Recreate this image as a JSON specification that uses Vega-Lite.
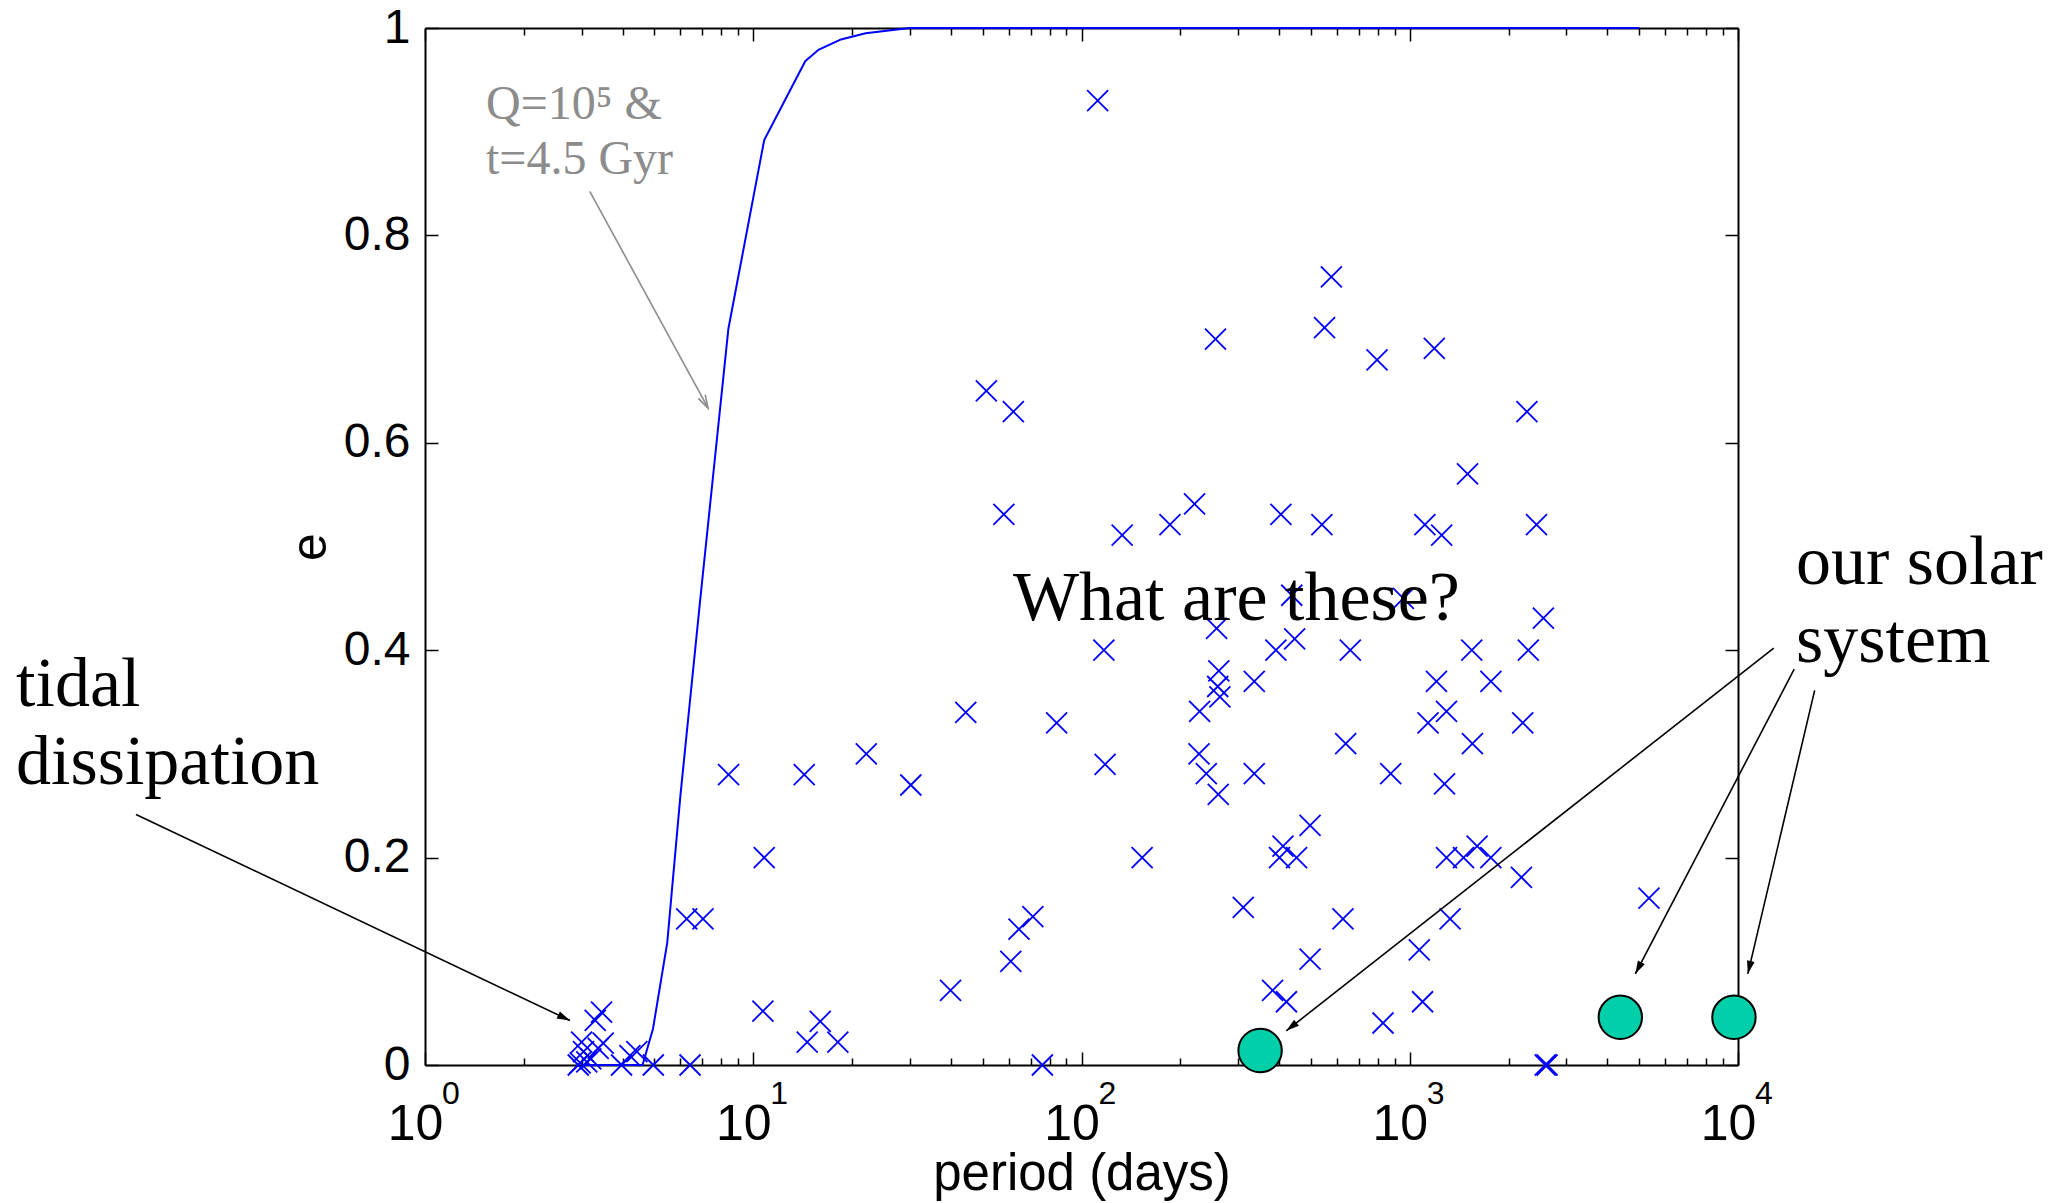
{
  "$schema": "https://vega.github.io/schema/vega-lite/v6.json",
  "width": 1313,
  "height": 1037,
  "autosize": "none",
  "padding": {"left": 425, "top": 28, "right": 331, "bottom": 138},
  "background": "white",
  "config": {"view": {"stroke": null}},
  "datasets": {
    "planets": [
      {"P": 2.93, "e": 0.0}, {"P": 2.97, "e": 0.002}, {"P": 3.0, "e": 0.022}, {"P": 3.04, "e": 0.013}, {"P": 3.11, "e": 0.003},
      {"P": 3.2, "e": 0.006}, {"P": 3.3, "e": 0.043}, {"P": 3.37, "e": 0.016}, {"P": 3.45, "e": 0.051}, {"P": 3.49, "e": 0.021},
      {"P": 3.97, "e": 0.0}, {"P": 4.21, "e": 0.009}, {"P": 4.42, "e": 0.013}, {"P": 4.96, "e": 0.0}, {"P": 6.42, "e": 0.0},
      {"P": 6.27, "e": 0.141}, {"P": 7.03, "e": 0.141}, {"P": 8.41, "e": 0.28}, {"P": 10.8, "e": 0.2}, {"P": 10.7, "e": 0.052},
      {"P": 14.3, "e": 0.28}, {"P": 14.6, "e": 0.022}, {"P": 16.0, "e": 0.042}, {"P": 18.1, "e": 0.022}, {"P": 22.1, "e": 0.3},
      {"P": 30.2, "e": 0.27}, {"P": 39.9, "e": 0.072}, {"P": 44.4, "e": 0.34}, {"P": 51.3, "e": 0.65}, {"P": 58, "e": 0.531},
      {"P": 60.9, "e": 0.1}, {"P": 62, "e": 0.63}, {"P": 64.5, "e": 0.131}, {"P": 71.1, "e": 0.143}, {"P": 76, "e": 0.0},
      {"P": 84, "e": 0.33}, {"P": 112, "e": 0.93}, {"P": 117, "e": 0.4}, {"P": 118, "e": 0.29}, {"P": 133, "e": 0.511},
      {"P": 153, "e": 0.2}, {"P": 186, "e": 0.521}, {"P": 221, "e": 0.541}, {"P": 228, "e": 0.3}, {"P": 229, "e": 0.341},
      {"P": 240, "e": 0.281}, {"P": 256, "e": 0.7}, {"P": 258, "e": 0.421}, {"P": 261, "e": 0.261}, {"P": 262, "e": 0.38},
      {"P": 260, "e": 0.365}, {"P": 264, "e": 0.355}, {"P": 311, "e": 0.152}, {"P": 336, "e": 0.37}, {"P": 336, "e": 0.281},
      {"P": 382, "e": 0.072}, {"P": 391, "e": 0.4}, {"P": 401, "e": 0.2}, {"P": 405, "e": 0.531}, {"P": 411, "e": 0.211},
      {"P": 421, "e": 0.061}, {"P": 437, "e": 0.453}, {"P": 446, "e": 0.411}, {"P": 452, "e": 0.2}, {"P": 497, "e": 0.231},
      {"P": 497, "e": 0.102}, {"P": 540, "e": 0.521}, {"P": 550, "e": 0.711}, {"P": 577, "e": 0.76}, {"P": 626, "e": 0.141},
      {"P": 638, "e": 0.31}, {"P": 659, "e": 0.4}, {"P": 795, "e": 0.68}, {"P": 829, "e": 0.0405}, {"P": 875, "e": 0.281},
      {"P": 956, "e": 0.45}, {"P": 1069, "e": 0.111}, {"P": 1094, "e": 0.061}, {"P": 1112, "e": 0.521}, {"P": 1137, "e": 0.33},
      {"P": 1188, "e": 0.691}, {"P": 1206, "e": 0.37}, {"P": 1251, "e": 0.511}, {"P": 1276, "e": 0.271}, {"P": 1294, "e": 0.341},
      {"P": 1294, "e": 0.2}, {"P": 1327, "e": 0.141}, {"P": 1458, "e": 0.2}, {"P": 1500, "e": 0.57}, {"P": 1545, "e": 0.4},
      {"P": 1552, "e": 0.31}, {"P": 1604, "e": 0.211}, {"P": 1766, "e": 0.2}, {"P": 1767, "e": 0.37}, {"P": 2189, "e": 0.181},
      {"P": 2209, "e": 0.33}, {"P": 2275, "e": 0.63}, {"P": 2297, "e": 0.4}, {"P": 2433, "e": 0.521}, {"P": 2553, "e": 0.431},
      {"P": 2588, "e": 0.0}, {"P": 2620, "e": 0.0}, {"P": 5355, "e": 0.161}
    ],
    "curve": [
      {"P": 3, "e": 0}, {"P": 4.6, "e": 0}, {"P": 4.95, "e": 0.035}, {"P": 5.47, "e": 0.118}, {"P": 6.0, "e": 0.26},
      {"P": 6.9, "e": 0.45}, {"P": 8.4, "e": 0.71}, {"P": 10.8, "e": 0.892}, {"P": 14.4, "e": 0.968}, {"P": 15.8, "e": 0.979},
      {"P": 18.5, "e": 0.989}, {"P": 22, "e": 0.995}, {"P": 30, "e": 1}, {"P": 5000, "e": 1}
    ],
    "solar": [
      {"name": "Earth", "P": 350, "e": 0.014},
      {"name": "Jupiter", "P": 4380, "e": 0.046},
      {"name": "Saturn", "P": 9720, "e": 0.046}
    ],
    "arrows": [
      {"id": "tidal", "P1": 0.1317, "e1": 0.2416, "P2": 2.765, "e2": 0.0429},
      {"id": "q", "P1": 3.177, "e1": 0.8425, "P2": 7.28, "e2": 0.6336},
      {"id": "earth", "P1": 12850, "e1": 0.4021, "P2": 420.7, "e2": 0.033},
      {"id": "jupiter", "P1": 14835, "e1": 0.3817, "P2": 4866, "e2": 0.0879},
      {"id": "saturn", "P1": 17120, "e1": 0.3612, "P2": 10713, "e2": 0.0879}
    ],
    "notes": [
      {"id": "what", "label": "What are these?", "P": 61.84, "e": 0.4291},
      {"id": "tidal", "label": "tidal\ndissipation", "P": 0.05675, "e": 0.346},
      {"id": "solar", "label": "our solar\nsystem", "P": 15025, "e": 0.4638},
      {"id": "q", "label": "Q=10⁵ &\nt=4.5 Gyr", "P": 1.534, "e": 0.9127}
    ],
    "exponents": [
      {"P": 1, "exp": "0"}, {"P": 10, "exp": "1"}, {"P": 100, "exp": "2"}, {"P": 1000, "exp": "3"}, {"P": 10000, "exp": "4"}
    ]
  },
  "layer": [
    {
      "data": {"name": "curve"},
      "mark": {"type": "line", "color": "#0000ff", "strokeWidth": 2},
      "encoding": {
        "x": {"field": "P", "type": "quantitative", "scale": {"type": "log", "domain": [1, 10000], "nice": false},
          "axis": {"orient": "top", "values": [1,2,3,4,5,6,7,8,9,10,20,30,40,50,60,70,80,90,100,200,300,400,500,600,700,800,900,1000,2000,3000,4000,5000,6000,7000,8000,9000,10000],
            "labels": false, "title": null, "grid": false, "domainColor": "black", "domainWidth": 2, "tickColor": "black", "tickWidth": 1.5,
            "tickSize": {"condition": {"test": "indexof([1,10,100,1000,10000], datum.value) >= 0", "value": -13}, "value": -7}}},
        "y": {"field": "e", "type": "quantitative", "scale": {"domain": [0, 1], "nice": false, "zero": false},
          "axis": {"orient": "right", "values": [0, 0.2, 0.4, 0.6, 0.8, 1], "labels": false, "title": null, "grid": false,
            "domainColor": "black", "domainWidth": 2, "tickColor": "black", "tickWidth": 1.5, "tickSize": -13}}
      }
    },
    {
      "data": {"name": "planets"},
      "mark": {"type": "point", "shape": "M-1,-1L1,1M-1,1L1,-1", "filled": false, "stroke": "#0000ff", "strokeWidth": 1.8, "size": 441, "opacity": 1},
      "encoding": {
        "x": {"field": "P", "type": "quantitative", "scale": {"type": "log", "domain": [1, 10000], "nice": false},
          "axis": {"orient": "bottom", "values": [1,2,3,4,5,6,7,8,9,10,20,30,40,50,60,70,80,90,100,200,300,400,500,600,700,800,900,1000,2000,3000,4000,5000,6000,7000,8000,9000,10000],
            "labelExpr": "indexof([1,10,100,1000,10000], datum.value) >= 0 ? '10' : ''",
            "labelFont": "Liberation Sans", "labelFontSize": 50, "labelColor": "black", "labelPadding": 47, "labelOffset": -10, "labelOverlap": false, "labelFlush": false,
            "title": "period (days)", "titleFont": "Liberation Sans", "titleFontSize": 51, "titleFontWeight": "normal", "titleColor": "black", "titlePadding": -6,
            "grid": false, "domainColor": "black", "domainWidth": 2, "tickColor": "black", "tickWidth": 1.5,
            "tickSize": {"condition": {"test": "indexof([1,10,100,1000,10000], datum.value) >= 0", "value": -13}, "value": -7}}},
        "y": {"field": "e", "type": "quantitative", "scale": {"domain": [0, 1], "nice": false, "zero": false},
          "axis": {"orient": "left", "values": [0, 0.2, 0.4, 0.6, 0.8, 1], "format": "~g",
            "labelFont": "Liberation Sans", "labelFontSize": 48, "labelColor": "black", "labelPadding": 28,
            "title": "e", "titleFont": "Liberation Sans", "titleFontSize": 50, "titleFontWeight": "normal", "titleColor": "black", "titlePadding": 8,
            "grid": false, "domainColor": "black", "domainWidth": 2, "tickColor": "black", "tickWidth": 1.5, "tickSize": -13}}
      }
    },
    {
      "data": {"name": "exponents"},
      "mark": {"type": "text", "align": "left", "baseline": "top", "font": "Liberation Sans", "fontSize": 32, "color": "black", "dx": 17, "dy": 14},
      "encoding": {
        "x": {"field": "P", "type": "quantitative", "scale": {"type": "log", "domain": [1, 10000], "nice": false}, "axis": null},
        "y": {"datum": 0, "type": "quantitative", "scale": {"domain": [0, 1], "nice": false, "zero": false}, "axis": null},
        "text": {"field": "exp"}
      }
    },
    {
      "data": {"name": "solar"},
      "mark": {"type": "point", "shape": "circle", "filled": true, "fill": "#00cfaa", "stroke": "black", "strokeWidth": 2, "size": 1886, "opacity": 1},
      "encoding": {
        "x": {"field": "P", "type": "quantitative", "scale": {"type": "log", "domain": [1, 10000], "nice": false}, "axis": null},
        "y": {"field": "e", "type": "quantitative", "scale": {"domain": [0, 1], "nice": false, "zero": false}, "axis": null}
      }
    },
    {
      "data": {"name": "arrows"},
      "transform": [{"filter": "datum.id !== 'q'"}],
      "mark": {"type": "rule", "color": "black", "strokeWidth": 1.6},
      "encoding": {
        "x": {"field": "P1", "type": "quantitative", "scale": {"type": "log", "domain": [1, 10000], "nice": false}, "axis": null},
        "x2": {"field": "P2"},
        "y": {"field": "e1", "type": "quantitative", "scale": {"domain": [0, 1], "nice": false, "zero": false}, "axis": null},
        "y2": {"field": "e2"}
      }
    },
    {
      "data": {"name": "arrows"},
      "transform": [{"filter": "datum.id === 'q'"}],
      "mark": {"type": "rule", "color": "#8c8c8c", "strokeWidth": 1.6},
      "encoding": {
        "x": {"field": "P1", "type": "quantitative", "scale": {"type": "log", "domain": [1, 10000], "nice": false}, "axis": null},
        "x2": {"field": "P2"},
        "y": {"field": "e1", "type": "quantitative", "scale": {"domain": [0, 1], "nice": false, "zero": false}, "axis": null},
        "y2": {"field": "e2"}
      }
    },
    {
      "data": {"name": "arrows"},
      "transform": [{"filter": "datum.id === 'tidal'"}],
      "mark": {"type": "point", "shape": "M0,0L-0.45,1.5L0.45,1.5Z", "filled": true, "color": "black", "size": 300, "opacity": 1, "angle": 115.4},
      "encoding": {
        "x": {"field": "P2", "type": "quantitative", "scale": {"type": "log", "domain": [1, 10000], "nice": false}, "axis": null},
        "y": {"field": "e2", "type": "quantitative", "scale": {"domain": [0, 1], "nice": false, "zero": false}, "axis": null}
      }
    },
    {
      "data": {"name": "arrows"},
      "transform": [{"filter": "datum.id === 'earth'"}],
      "mark": {"type": "point", "shape": "M0,0L-0.45,1.5L0.45,1.5Z", "filled": true, "color": "black", "size": 300, "opacity": 1, "angle": 231.85},
      "encoding": {
        "x": {"field": "P2", "type": "quantitative", "scale": {"type": "log", "domain": [1, 10000], "nice": false}, "axis": null},
        "y": {"field": "e2", "type": "quantitative", "scale": {"domain": [0, 1], "nice": false, "zero": false}, "axis": null}
      }
    },
    {
      "data": {"name": "arrows"},
      "transform": [{"filter": "datum.id === 'jupiter'"}],
      "mark": {"type": "point", "shape": "M0,0L-0.45,1.5L0.45,1.5Z", "filled": true, "color": "black", "size": 300, "opacity": 1, "angle": 207.55},
      "encoding": {
        "x": {"field": "P2", "type": "quantitative", "scale": {"type": "log", "domain": [1, 10000], "nice": false}, "axis": null},
        "y": {"field": "e2", "type": "quantitative", "scale": {"domain": [0, 1], "nice": false, "zero": false}, "axis": null}
      }
    },
    {
      "data": {"name": "arrows"},
      "transform": [{"filter": "datum.id === 'saturn'"}],
      "mark": {"type": "point", "shape": "M0,0L-0.45,1.5L0.45,1.5Z", "filled": true, "color": "black", "size": 300, "opacity": 1, "angle": 193.26},
      "encoding": {
        "x": {"field": "P2", "type": "quantitative", "scale": {"type": "log", "domain": [1, 10000], "nice": false}, "axis": null},
        "y": {"field": "e2", "type": "quantitative", "scale": {"domain": [0, 1], "nice": false, "zero": false}, "axis": null}
      }
    },
    {
      "data": {"name": "arrows"},
      "transform": [{"filter": "datum.id === 'q'"}],
      "mark": {"type": "point", "shape": "M-0.45,1.5L0,0L0.45,1.5", "filled": false, "stroke": "#8c8c8c", "strokeWidth": 1.6, "size": 300, "opacity": 1, "angle": 151.4},
      "encoding": {
        "x": {"field": "P2", "type": "quantitative", "scale": {"type": "log", "domain": [1, 10000], "nice": false}, "axis": null},
        "y": {"field": "e2", "type": "quantitative", "scale": {"domain": [0, 1], "nice": false, "zero": false}, "axis": null}
      }
    },
    {
      "data": {"name": "notes"},
      "transform": [{"filter": "datum.id !== 'q'"}],
      "mark": {"type": "text", "align": "left", "baseline": "alphabetic", "font": "Liberation Serif", "fontSize": 70, "color": "black", "lineBreak": "\n", "lineHeight": 78},
      "encoding": {
        "x": {"field": "P", "type": "quantitative", "scale": {"type": "log", "domain": [1, 10000], "nice": false}, "axis": null},
        "y": {"field": "e", "type": "quantitative", "scale": {"domain": [0, 1], "nice": false, "zero": false}, "axis": null},
        "text": {"field": "label"}
      }
    },
    {
      "data": {"name": "notes"},
      "transform": [{"filter": "datum.id === 'q'"}],
      "mark": {"type": "text", "align": "left", "baseline": "alphabetic", "font": "Liberation Serif", "fontSize": 48, "color": "#8c8c8c", "lineBreak": "\n", "lineHeight": 55},
      "encoding": {
        "x": {"field": "P", "type": "quantitative", "scale": {"type": "log", "domain": [1, 10000], "nice": false}, "axis": null},
        "y": {"field": "e", "type": "quantitative", "scale": {"domain": [0, 1], "nice": false, "zero": false}, "axis": null},
        "text": {"field": "label"}
      }
    }
  ],
  "resolve": {"axis": {"x": "independent", "y": "independent"}}
}
